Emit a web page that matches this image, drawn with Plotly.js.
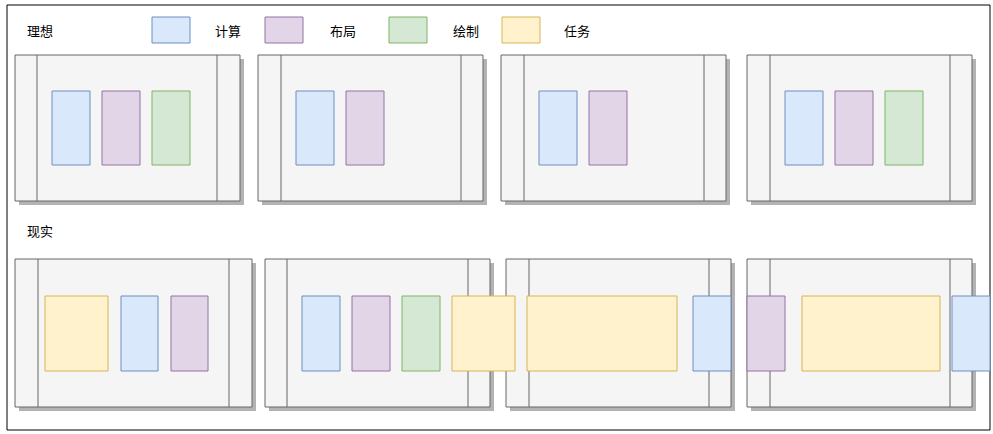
<!DOCTYPE html>
<html><head><meta charset="utf-8">
<script src="https://cdn.plot.ly/plotly-3.0.1.min.js"></script>
<style>html,body{margin:0;padding:0;background:#fff}#chart{width:993px;height:434px}</style>
</head><body><div id="chart"></div>
<script>
// 行ごとの枠(フレーム)
const frameRowTop = [55, 259]
const frameRowBottom = [201, 407]
const frameRow = [0, 0, 0, 0, 1, 1, 1, 1]
const frameLeft = [15, 258, 501, 747, 15, 265, 506, 747]
const frameRight = [240, 483, 726, 972, 252, 490, 731, 972]
const frameInnerLeft = [37, 281, 524, 770, 38, 287, 529, 770]
const frameInnerRight = [217, 461, 704, 950, 229, 468, 709, 950]

// 作業ブロック
const blockRowTop = [91, 296]
const blockRowBottom = [165, 371]
const blockRow = [0, 0, 0, 0, 0, 0, 0, 0, 0, 0,
                  1, 1, 1, 1, 1, 1, 1, 1, 1, 1, 1, 1, 1]
const blockKind = ["calc", "layout", "paint", "calc", "layout", "calc", "layout", "calc", "layout", "paint",
                   "task", "calc", "layout", "calc", "layout", "paint", "task", "task", "calc", "layout", "task", "calc"]
const blockStart = [52, 102, 152, 296, 346, 539, 589, 785, 835, 885,
                    45, 121, 171, 302, 352, 402, 452, 527, 693, 747, 802, 952]
const blockEnd = [90, 140, 190, 334, 384, 577, 627, 823, 873, 923,
                  108, 158, 208, 340, 390, 440, 515, 677, 731, 785, 940, 990]

const legendKind = ["calc", "layout", "paint", "task"]
const legendLabel = ["计算", "布局", "绘制", "任务"]
const legendBoxStart = [152, 265, 389, 502]
const legendTextX = [228, 343, 466, 577]

const rowLabel = ["理想", "现实"]
const rowLabelY = [30, 230]

const colors = {
  calc: { fill: "#dae8fc", line: "#6c8ebf" },
  layout: { fill: "#e1d5e7", line: "#9673a6" },
  paint: { fill: "#d5e8d4", line: "#82b366" },
  task: { fill: "#fff2cc", line: "#d6b656" }
}

const shapes = []
const rect = (x0, x1, y0, y1, fill, line, width) => shapes.push({
  type: "rect", xref: "x", yref: "y", x0, x1, y0, y1,
  fillcolor: fill, line: { color: line, width: width === undefined ? 1 : width }
})
const vline = (x, y0, y1) => shapes.push({
  type: "line", xref: "x", yref: "y", x0: x, x1: x, y0, y1, line: { color: "#666666", width: 1 }
})

// 外枠
rect(7, 990, 5, 430, "rgba(0,0,0,0)", "#000000", 1)

frameLeft.forEach((left, i) => {
  const top = frameRowTop[frameRow[i]], bottom = frameRowBottom[frameRow[i]]
  rect(left + 4, frameRight[i] + 4, top + 4, bottom + 4, "#b3b3b3", "#b3b3b3", 0)
  rect(left, frameRight[i], top, bottom, "#f5f5f5", "#666666", 1)
  vline(frameInnerLeft[i], top, bottom)
  vline(frameInnerRight[i], top, bottom)
})

blockStart.forEach((start, i) => {
  const c = colors[blockKind[i]]
  rect(start, blockEnd[i], blockRowTop[blockRow[i]], blockRowBottom[blockRow[i]], c.fill, c.line, 1)
})

const annotations = []
legendKind.forEach((kind, i) => {
  rect(legendBoxStart[i], legendBoxStart[i] + 38, 17, 43, colors[kind].fill, colors[kind].line, 1)
  annotations.push({ x: legendTextX[i], y: 30, xref: "x", yref: "y", text: legendLabel[i], showarrow: false })
})
rowLabel.forEach((label, i) => {
  annotations.push({ x: 40, y: rowLabelY[i], xref: "x", yref: "y", text: label, showarrow: false })
})

Plotly.newPlot("chart", [], {
  width: 993, height: 434,
  margin: { l: 0, r: 0, t: 0, b: 0 },
  paper_bgcolor: "#ffffff", plot_bgcolor: "#ffffff",
  font: { family: "'Noto Sans CJK SC', sans-serif", size: 13, color: "#000000" },
  xaxis: { range: [0, 993], visible: false, fixedrange: true },
  yaxis: { range: [434, 0], visible: false, fixedrange: true },
  shapes, annotations, showlegend: false
}, { displayModeBar: false, staticPlot: true })
</script></body></html>
